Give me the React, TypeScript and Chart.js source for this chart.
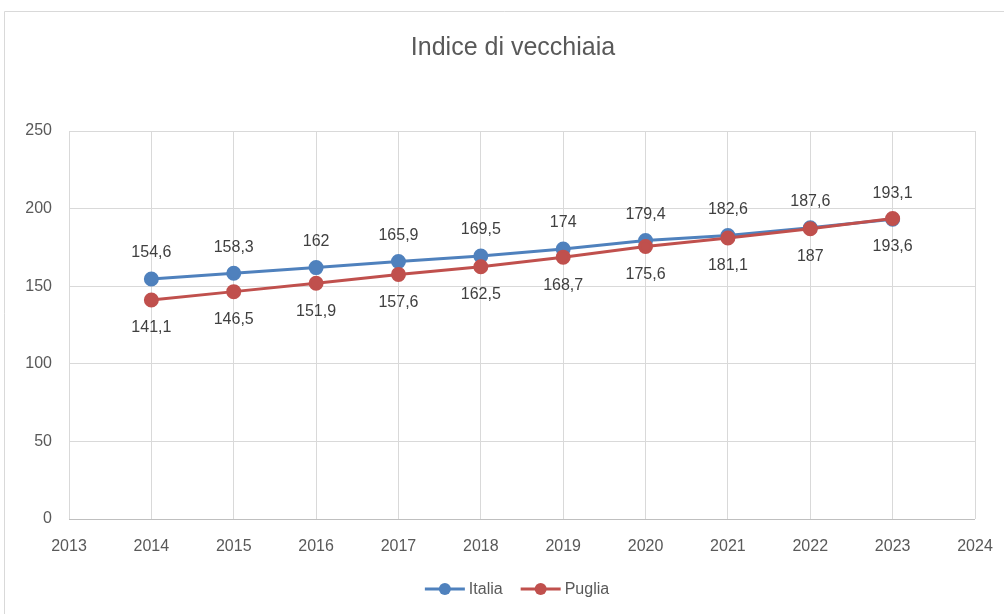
import React, { useEffect, useRef } from "react";
import { Chart, registerables } from "chart.js";

Chart.register(...registerables);

const years = [2014, 2015, 2016, 2017, 2018, 2019, 2020, 2021, 2022, 2023];
const italia = [154.6, 158.3, 162, 165.9, 169.5, 174, 179.4, 182.6, 187.6, 193.1];
const puglia = [141.1, 146.5, 151.9, 157.6, 162.5, 168.7, 175.6, 181.1, 187, 193.6];
const seriesNames = ["Italia", "Puglia"];
const titleText = "Indice di vecchiaia";

const BLUE = "#4F81BD";
const RED = "#C0504D";
const FONT = "'Liberation Sans', Arial, sans-serif";

const fmt = (v: number) => String(v).replace(".", ",");

const extras = {
  id: "extras",
  beforeDraw(chart: any) {
    const ctx = chart.ctx;
    ctx.save();
    ctx.fillStyle = "#ffffff";
    ctx.fillRect(0, 0, chart.width, chart.height);
    ctx.strokeStyle = "#d9d9d9";
    ctx.lineWidth = 1;
    ctx.beginPath();
    ctx.moveTo(4.5, chart.height + 5);
    ctx.lineTo(4.5, 11.5);
    ctx.lineTo(chart.width + 5, 11.5);
    ctx.stroke();
    ctx.restore();
  },
  afterDatasetsDraw(chart: any) {
    const ctx = chart.ctx;
    ctx.save();
    ctx.font = `16px ${FONT}`;
    ctx.fillStyle = "#404040";
    ctx.textAlign = "center";
    ctx.textBaseline = "middle";
    chart.data.datasets.forEach((ds: any, i: number) => {
      const meta = chart.getDatasetMeta(i);
      meta.data.forEach((pt: any, j: number) => {
        const v = ds.data[j].y;
        const dy = i === 0 ? -26 : 28;
        ctx.fillText(fmt(v), pt.x, pt.y + dy);
      });
    });
    ctx.restore();
  },
  afterDraw(chart: any) {
    const ctx = chart.ctx;
    ctx.save();
    // title
    ctx.font = `25px ${FONT}`;
    ctx.fillStyle = "#595959";
    ctx.textAlign = "center";
    ctx.textBaseline = "middle";
    ctx.fillText(titleText, 513, 48);
    // legend
    ctx.font = `16px ${FONT}`;
    ctx.textAlign = "left";
    const y = 589;
    const items = chart.data.datasets.map((ds: any) => ({
      label: ds.label,
      color: ds.borderColor,
      w: 40 + 4 + ctx.measureText(ds.label).width,
    }));
    const gap = 18;
    const total = items.reduce((s: number, it: any) => s + it.w, 0) + gap * (items.length - 1);
    let x = 517 - total / 2;
    items.forEach((it: any) => {
      ctx.strokeStyle = it.color;
      ctx.lineWidth = 3;
      ctx.beginPath();
      ctx.moveTo(x, y);
      ctx.lineTo(x + 40, y);
      ctx.stroke();
      ctx.fillStyle = it.color;
      ctx.beginPath();
      ctx.arc(x + 20, y, 6, 0, Math.PI * 2);
      ctx.fill();
      ctx.fillStyle = "#595959";
      ctx.fillText(it.label, x + 44, y + 1);
      x += it.w + gap;
    });
    ctx.restore();
  },
};

export default function App() {
  const ref = useRef<HTMLCanvasElement | null>(null);
  useEffect(() => {
    if (!ref.current) return;
    const chart = new Chart(ref.current, {
      type: "line",
      data: {
        datasets: [
          {
            label: seriesNames[0],
            data: years.map((y, i) => ({ x: y, y: italia[i] })),
            borderColor: BLUE,
            backgroundColor: BLUE,
            borderWidth: 3,
            pointRadius: 6,
            pointBackgroundColor: BLUE,
            pointBorderColor: BLUE,
            order: 1,
          },
          {
            label: seriesNames[1],
            data: years.map((y, i) => ({ x: y, y: puglia[i] })),
            borderColor: RED,
            backgroundColor: RED,
            borderWidth: 3,
            pointRadius: 6,
            pointBackgroundColor: RED,
            pointBorderColor: RED,
            order: 0,
          },
        ],
      },
      options: {
        responsive: false,
        animation: false,
        layout: { padding: { top: 131, right: 29, left: 0, bottom: 0 } },
        plugins: {
          legend: { display: false },
          title: { display: false },
          tooltip: { enabled: false },
        },
        scales: {
          x: {
            type: "linear",
            min: 2013,
            max: 2024,
            ticks: {
              stepSize: 1,
              color: "#595959",
              font: { size: 16, family: FONT },
              padding: 18,
              callback: (v: any) => String(v),
            },
            grid: { color: "#d9d9d9", drawTicks: false },
            border: { display: false },
            afterFit: (s: any) => {
              s.height = 95;
              s.paddingRight = 0;
              s.paddingLeft = 0;
            },
          },
          y: {
            min: 0,
            max: 250,
            ticks: {
              stepSize: 50,
              color: "#595959",
              font: { size: 16, family: FONT },
              padding: 17,
            },
            grid: {
              color: (c: any) => (c.tick && c.tick.value === 0 ? "#bfbfbf" : "#d9d9d9"),
              drawTicks: false,
            },
            border: { display: false },
            afterFit: (s: any) => {
              s.width = 69;
            },
          },
        },
      },
      plugins: [extras],
    });
    return () => chart.destroy();
  }, []);
  return (
    <div style={{ position: "absolute", left: 0, top: 0, width: 1004, height: 614 }}>
      <canvas ref={ref} width={1004} height={614} style={{ display: "block" }} />
    </div>
  );
}
